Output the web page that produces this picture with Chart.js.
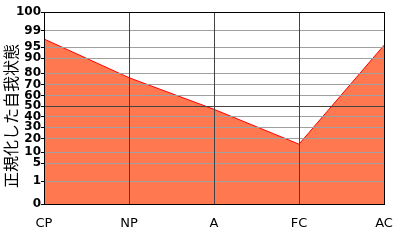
<!DOCTYPE html>
<html>
<head>
<meta charset="utf-8">
<script src="https://cdn.jsdelivr.net/npm/chart.js@4"></script>
<style>
html,body{margin:0;padding:0;background:#fff;}
#wrap{width:400px;height:240px;}
</style>
</head>
<body>
<div id="wrap"><canvas id="c" width="400" height="240"></canvas></div>
<script>
// categories (ego states)
const categories = ['CP', 'NP', 'A', 'FC', 'AC'];
// normalized ego-state values (percentile)
const values = [97, 76, 47, 16, 95.5];
// y-axis tick labels (percentile)
const yTicks = [0, 1, 5, 10, 20, 30, 40, 50, 60, 70, 80, 90, 95, 99, 100];
// relative axis position (0..100) of each tick label on the non-linear percentile axis
const yTickPos = [0, 11.8, 21.2, 26.9, 34.0, 39.95, 45.6, 50.9, 56.5, 62.3, 68.1, 75.9, 81.6, 90.3, 100];
const yTitle = '正規化した自我状態\u3000';

function toPos(v) {
  if (v <= yTicks[0]) return yTickPos[0];
  for (let i = 1; i < yTicks.length; i++) {
    if (v <= yTicks[i]) {
      const t = (v - yTicks[i - 1]) / (yTicks[i] - yTicks[i - 1]);
      return yTickPos[i - 1] + t * (yTickPos[i] - yTickPos[i - 1]);
    }
  }
  return yTickPos[yTickPos.length - 1];
}
function fromPos(p) {
  for (let i = 1; i < yTickPos.length; i++) {
    if (p <= yTickPos[i]) {
      const t = (p - yTickPos[i - 1]) / (yTickPos[i] - yTickPos[i - 1]);
      return yTicks[i - 1] + t * (yTicks[i] - yTicks[i - 1]);
    }
  }
  return yTicks[yTicks.length - 1];
}

class PercentileScale extends Chart.LinearScale {
  getPixelForValue(value) {
    return this.getPixelForDecimal(toPos(value) / 100);
  }
  getValueForPixel(pixel) {
    return fromPos(this.getDecimalForPixel(pixel) * 100);
  }
}
PercentileScale.id = 'percentile';
PercentileScale.defaults = Chart.LinearScale.defaults;
Chart.register(PercentileScale);

const gridOnTop = {
  id: 'gridOnTop',
  afterDatasetsDraw(chart) {
    const ctx = chart.ctx;
    const a = chart.chartArea;
    ctx.save();
    chart.scales.y.drawGrid(a);
    chart.scales.x.drawGrid(a);
    ctx.strokeStyle = '#000';
    ctx.lineWidth = 1;
    ctx.strokeRect(Math.round(a.left) + 0.5, Math.round(a.top) + 0.5, Math.round(a.right - a.left), Math.round(a.bottom - a.top));
    ctx.restore();
  }
};

new Chart(document.getElementById('c'), {
  type: 'line',
  data: {
    labels: categories,
    datasets: [{
      data: values,
      borderColor: '#ff0000',
      borderWidth: 1,
      backgroundColor: '#ff7850',
      fill: 'start',
      pointRadius: 0,
      tension: 0
    }]
  },
  options: {
    responsive: false,
    animation: false,
    devicePixelRatio: 1,
    layout: { padding: { top: 12, right: 16, left: 0, bottom: 0 } },
    plugins: { legend: { display: false }, tooltip: { enabled: false } },
    scales: {
      x: {
        type: 'category',
        offset: false,
        grid: {
          drawTicks: false,
          color: (c) => (c.index === 0 || c.index === categories.length - 1) ? '#000' : '#444',
          lineWidth: 1
        },
        border: { display: false },
        ticks: {
          color: '#000',
          font: { family: 'DejaVu Sans', size: 13 },
          padding: 12,
          maxRotation: 0,
          autoSkip: false
        },
        afterFit: (s) => { s.height = 36; s.paddingLeft = 0; s.paddingRight = 0; }
      },
      y: {
        type: 'percentile',
        min: 0,
        max: 100,
        afterBuildTicks: (s) => { s.ticks = yTicks.map(v => ({ value: v })); },
        grid: {
          color: (c) => {
            const v = c.tick ? c.tick.value : null;
            if (v === 0 || v === 100) return '#000';
            if (v === 50) return '#444';
            return '#a0a0a0';
          },
          tickColor: '#000',
          tickLength: 3,
          lineWidth: 1
        },
        border: { display: false },
        ticks: {
          color: '#000',
          font: { family: 'DejaVu Sans', size: 12, weight: 'bold' },
          padding: 0,
          autoSkip: false
        },
        title: {
          display: true,
          text: yTitle,
          color: '#000',
          font: { family: 'Noto Sans CJK JP', size: 16 },
          padding: { top: 1, bottom: 0 }
        },
        afterFit: (s) => { s.width = 44; }
      }
    }
  },
  plugins: [gridOnTop]
});
</script>
</body>
</html>
